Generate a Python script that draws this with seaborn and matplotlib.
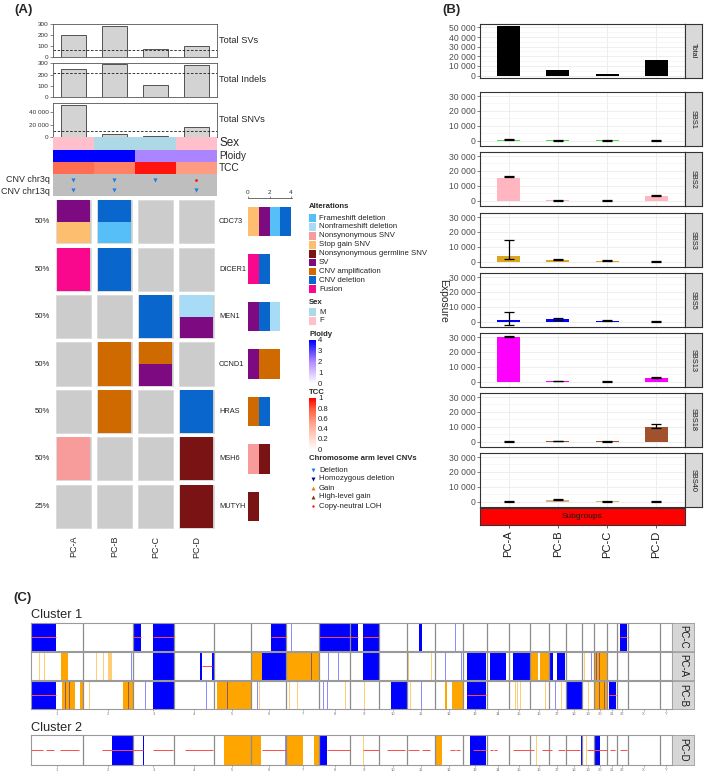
"""
Multi-panel summary: oncoprint (A), signature exposures (B), copy-number tracks (C).
"""
import numpy as np
import matplotlib
matplotlib.use('Agg')
import matplotlib.pyplot as plt
from matplotlib.colors import LinearSegmentedColormap, ListedColormap
from matplotlib.patches import Rectangle
from matplotlib.ticker import MultipleLocator
import seaborn as sns

sns.set_style('white')
plt.rcParams['font.family'] = ['Liberation Sans', 'DejaVu Sans']

W, H = 709, 781

# ---------------------------------------------------------------- data (A)
samples = ['PC-A', 'PC-B', 'PC-C', 'PC-D']
total_svs = [205, 285, 75, 105]
total_indels = [250, 295, 110, 285]
total_snvs = [51000, 5000, 1500, 16000]
median_svs, median_indels, median_snvs = 60, 215, 10000

sex = ['F', 'M', 'M', 'F']
ploidy = [4.0, 4.0, 2.1, 2.1]
tcc = [0.72, 0.65, 0.95, 0.55]
cnv_chr3q = ['Deletion', 'Deletion', 'Deletion', 'Copy-neutral LOH']
cnv_chr13q = ['Deletion', 'Deletion', None, 'Deletion']

genes = ['CDC73', 'DICER1', 'MEN1', 'CCND1', 'HRAS', 'MSH6', 'MUTYH']
# alterations per sample (top to bottom inside a cell)
cdc73 = [['SV', 'Stop gain SNV'], ['CNV deletion', 'Frameshift deletion'], [], []]
dicer1 = [['Fusion'], ['CNV deletion'], [], []]
men1 = [[], [], ['CNV deletion'], ['Nonframeshift deletion', 'SV']]
ccnd1 = [[], ['CNV amplification'], ['CNV amplification', 'SV'], []]
hras = [[], ['CNV amplification'], [], ['CNV deletion']]
msh6 = [['Nonsynonymous SNV'], [], [], ['Nonsynonymous germline SNV']]
mutyh = [[], [], [], ['Nonsynonymous germline SNV']]
onco_rows = [cdc73, dicer1, men1, ccnd1, hras, msh6, mutyh]

alt_types = ['Frameshift deletion', 'Nonframeshift deletion', 'Nonsynonymous SNV',
             'Stop gain SNV', 'Nonsynonymous germline SNV', 'SV',
             'CNV amplification', 'CNV deletion', 'Fusion']
alt_colors = ['#56BFF8', '#A8DBF6', '#F89B9B', '#FDBE6F', '#7A1414', '#7D0A80',
              '#CE6A00', '#0866CC', '#F9078C']
stack_order = ['Stop gain SNV', 'Fusion', 'Nonsynonymous SNV', 'SV', 'Frameshift deletion',
               'CNV amplification', 'CNV deletion', 'Nonframeshift deletion',
               'Nonsynonymous germline SNV']

# ---------------------------------------------------------------- data (B)
sig_names = ['Total', 'SBS1', 'SBS2', 'SBS3', 'SBS5', 'SBS13', 'SBS18', 'SBS40']
sig_colors = ['#000000', '#3EE83E', '#FFB6C1', '#DAA520', '#0000FF', '#FF00FF',
              '#A0522D', '#D2B48C']
total_exposure = [51000, 5500, 1500, 16000]
sbs1 = [600, 150, 150, 0]
sbs1_err = [(200, 1200), (0, 300), (0, 300), (-100, 200)]
sbs2 = [15500, 100, 0, 3200]
sbs2_err = [(15800, 16600), (0, 250), (0, 200), (3400, 3900)]
sbs3 = [4000, 1000, 500, 0]
sbs3_err = [(2000, 14500), (800, 1600), (200, 800), (-100, 200)]
sbs5 = [800, 1500, 700, 0]
sbs5_err = [(-2500, 6500), (1400, 2200), (500, 1000), (-100, 200)]
sbs13 = [30000, 300, 0, 2500]
sbs13_err = [(29700, 31000), (200, 500), (-100, 100), (2600, 3300)]
sbs18 = [0, 200, 100, 10000]
sbs18_err = [(-100, 100), (100, 400), (0, 200), (9500, 11800)]
sbs40 = [0, 1000, 300, 0]
sbs40_err = [(-100, 100), (800, 1600), (0, 700), (-100, 200)]

# ---------------------------------------------------------------- data (C)
chroms = [str(i) for i in range(1, 23)] + ['X', 'Y']
chrom_len = [249.25, 243.20, 198.02, 191.15, 180.92, 171.12, 159.14, 146.36, 141.21,
             135.53, 135.01, 133.85, 115.17, 107.35, 102.53, 90.35, 81.20, 78.08,
             59.13, 63.03, 48.13, 51.30, 155.27, 59.37]

# (chromosome, start Mb, end Mb, kind)
seg_pc_c = [
    ('1', 0, 121, 'del'), ('3', 0, 39, 'del'), ('3', 95, 198, 'del'), ('6', 95, 171, 'del'),
    ('8', 0, 146, 'del'), ('9', 0, 40, 'del'), ('9', 65, 141, 'del'), ('11', 57, 71, 'del'),
    ('22', 16, 47, 'del'),
    ('2', 24, 27, 'del_l'), ('7', 24, 27, 'del_l'), ('12', 99, 102, 'del_l'),
    ('11', 51, 54, 'gain'),
    ('1', 0, 121, 'loh'), ('3', 0, 39, 'loh'), ('3', 95, 198, 'loh'), ('6', 95, 171, 'loh'),
    ('8', 0, 146, 'loh'), ('9', 0, 40, 'loh'), ('9', 65, 141, 'loh'), ('22', 16, 47, 'loh'),
]
seg_pc_a = [
    ('1', 143, 177, 'gain'), ('6', 0, 55, 'gain'), ('7', 0, 159, 'gain'),
    ('16', 4, 38, 'gain'), ('16', 49, 90, 'gain'), ('20', 0, 63, 'gain'),
    ('1', 40, 43, 'gain_l'), ('1', 63, 66, 'gain_l'), ('2', 65, 68, 'gain_l'),
    ('2', 100, 103, 'gain_l'), ('2', 124, 140, 'gain_l'), ('5', 111, 114, 'gain_l'),
    ('9', 34, 37, 'gain_l'), ('10', 125, 128, 'gain_l'), ('11', 5, 8, 'gain_l'),
    ('11', 116, 119, 'gain_l'), ('18', 25, 28, 'gain_l'), ('19', 12, 15, 'gain_l'),
    ('3', 95, 198, 'del'), ('4', 125, 137, 'del'), ('4', 182, 191, 'del'),
    ('6', 55, 171, 'del'), ('9', 66, 141, 'del'), ('13', 19, 115, 'del'),
    ('14', 17, 94, 'del'), ('15', 19, 102, 'del'), ('17', 0, 22, 'del'), ('17', 39, 81, 'del'),
    ('2', 228, 231, 'del_l'), ('2', 236, 239, 'del_l'), ('7', 60, 63, 'del_l'),
    ('7', 118, 121, 'del_l'), ('8', 43, 46, 'del_l'), ('8', 91, 94, 'del_l'),
    ('11', 66, 69, 'del_l'), ('12', 48, 51, 'del_l'), ('12', 126, 129, 'del_l'),
    ('19', 46, 49, 'del_l'), ('20', 10, 13, 'del_l'), ('20', 24, 27, 'del_l'),
    ('4', 137, 182, 'loh'),
]
seg_pc_b = [
    ('1', 148, 212, 'gain'), ('1', 237, 249, 'gain'), ('2', 194, 243, 'gain'),
    ('5', 15, 180, 'gain'), ('12', 48, 60, 'gain'), ('12', 81, 134, 'gain'),
    ('20', 0, 63, 'gain'),
    ('1', 225, 228, 'gain_l'), ('2', 32, 35, 'gain_l'), ('3', 18, 21, 'gain_l'),
    ('6', 40, 43, 'gain_l'), ('7', 14, 17, 'gain_l'), ('7', 25, 28, 'gain_l'),
    ('7', 30, 33, 'gain_l'), ('7', 52, 55, 'gain_l'), ('7', 127, 130, 'gain_l'),
    ('8', 124, 127, 'gain_l'), ('9', 69, 72, 'gain_l'), ('10', 9, 12, 'gain_l'),
    ('11', 15, 18, 'gain_l'), ('15', 30, 33, 'gain_l'), ('15', 41, 44, 'gain_l'),
    ('15', 54, 57, 'gain_l'), ('15', 86, 89, 'gain_l'), ('16', 33, 36, 'gain_l'),
    ('16', 73, 76, 'gain_l'), ('17', 0, 3, 'gain_l'), ('17', 14, 17, 'gain_l'),
    ('17', 60, 63, 'gain_l'), ('19', 30, 33, 'gain_l'), ('22', 19, 22, 'gain_l'),
    ('1', 0, 121, 'del'), ('3', 95, 198, 'del'), ('10', 57, 135, 'del'),
    ('13', 19, 115, 'del'), ('18', 1, 78, 'del'), ('21', 12, 44, 'del'),
    ('1', 153, 156, 'del_l'), ('1', 164, 167, 'del_l'), ('1', 185, 188, 'del_l'),
    ('1', 192, 195, 'del_l'), ('2', 189, 192, 'del_l'), ('2', 220, 223, 'del_l'),
    ('2', 228, 231, 'del_l'), ('3', 58, 61, 'del_l'), ('4', 155, 158, 'del_l'),
    ('5', 66, 69, 'del_l'), ('6', 30, 33, 'del_l'), ('7', 98, 101, 'del_l'),
    ('8', 19, 22, 'del_l'), ('8', 38, 41, 'del_l'), ('9', 131, 134, 'del_l'),
    ('11', 68, 71, 'del_l'), ('11', 124, 127, 'del_l'), ('16', 57, 60, 'del_l'),
    ('17', 30, 33, 'del_l'), ('20', 25, 28, 'del_l'), ('20', 50, 53, 'del_l'),
    ('1', 0, 121, 'loh'), ('13', 19, 115, 'loh'), ('21', 12, 44, 'loh'),
]
seg_pc_d = [
    ('5', 50, 181, 'gain'), ('6', 0, 48, 'gain'), ('7', 1, 79, 'gain'),
    ('7', 134, 159, 'gain'), ('12', 0, 32, 'gain'),
    ('9', 66, 69, 'gain_l'), ('16', 29, 32, 'gain_l'), ('19', 22, 25, 'gain_l'),
    ('2', 141, 243, 'del'), ('3', 47, 55, 'del'), ('8', 0, 35, 'del'),
    ('13', 35, 115, 'del'), ('18', 76, 78, 'del'), ('20', 0, 27, 'del'),
    ('6', 166, 169, 'del_l'), ('11', 110, 113, 'del_l'), ('16', 52, 55, 'del_l'),
    ('1', 2, 60, 'loh'), ('1', 72, 112, 'loh'), ('1', 142, 231, 'loh'),
    ('2', 92, 243, 'loh'), ('3', 0, 50, 'loh'), ('3', 95, 195, 'loh'),
    ('4', 53, 190, 'loh'), ('6', 52, 171, 'loh'), ('8', 35, 146, 'loh'),
    ('9', 66, 141, 'loh'), ('10', 37, 126, 'loh'), ('11', 5, 60, 'loh'),
    ('11', 70, 111, 'loh'), ('12', 73, 95, 'loh'), ('12', 100, 121, 'loh'),
    ('13', 51, 115, 'loh'), ('14', 17, 30, 'loh'), ('14', 38, 49, 'loh'),
    ('15', 22, 102, 'loh'), ('16', 0, 17, 'loh'), ('16', 57, 90, 'loh'),
    ('17', 0, 14, 'loh'), ('17', 47, 81, 'loh'), ('18', 0, 70, 'loh'),
    ('19', 25, 59, 'loh'), ('20', 0, 63, 'loh'), ('21', 15, 40, 'loh'),
    ('22', 16, 47, 'loh'),
]

# ---------------------------------------------------------------- helpers
fig = plt.figure(figsize=(W / 100, H / 100), dpi=100)


def px_axes(left, top, width, height):
    return fig.add_axes([left / W, 1 - (top + height) / H, width / W, height / H])


def fig_text(x, y, s, **kw):
    fig.text(x / W, 1 - y / H, s, **kw)


def thousands(v):
    return f'{int(v):,}'.replace(',', ' ')


fig_text(14, 10, '(A)', fontsize=9.5, fontweight='bold', va='center')
fig_text(442, 10, '(B)', fontsize=9.5, fontweight='bold', va='center')
fig_text(13, 598, '(C)', fontsize=9.5, fontweight='bold', va='center')

# ---------------------------------------------------------------- (A) count bars
def count_panel(top, height, values, median, ytop, ticks, label):
    ax = px_axes(53, top, 164, height)
    sns.barplot(x=samples, y=values, color='#D3D3D3', edgecolor='#3a3a3a',
                linewidth=0.6, width=0.62, saturation=1, ax=ax)
    ax.axhline(median, ls=(0, (3, 2)), color='#1a1a1a', lw=0.6)
    ax.set(xlim=(-0.5, 3.5), ylim=(0, ytop), xlabel='', ylabel='', xticks=[])
    ax.set_yticks(ticks)
    ax.set_yticklabels([thousands(t) for t in ticks])
    ax.tick_params(axis='y', labelsize=4.6, length=2, width=0.4, pad=1,
                   colors='#333333', left=True)
    for s in ax.spines.values():
        s.set_color('#555555')
        s.set_linewidth(0.6)
    fig_text(219, top + height / 2, label, fontsize=6.7, va='center')


count_panel(24, 33, total_svs, median_svs, 303, [0, 100, 200, 300], 'Total SVs')
count_panel(63, 34, total_indels, median_indels, 303, [0, 100, 200, 300], 'Total Indels')
count_panel(103, 34, total_snvs, median_snvs, 54800, [0, 20000, 40000], 'Total SNVs')

# annotation strips
sex_cmap = ListedColormap(['#FFC0CB', '#ADD8E6'])
ploidy_cmap = LinearSegmentedColormap.from_list('ploidy', ['#FFFFFF', '#B48CFF', '#0000FF'])
tcc_cmap = LinearSegmentedColormap.from_list(
    'tcc', [(0, '#FFFFFF'), (0.5, '#FFA890'), (0.8, '#FF5A3C'), (1, '#FF0000')])

strips = [(137, 13, [[0 if s == 'F' else 1 for s in sex]], sex_cmap, 0, 1, 'Sex', 8.4),
          (150, 12, [ploidy], ploidy_cmap, 0, 4, 'Ploidy', 7.1),
          (162, 12, [tcc], tcc_cmap, 0, 1, 'TCC', 7.3)]
for top, h, vals, cmap, vmin, vmax, name, fs in strips:
    ax = px_axes(53, top, 164, h)
    sns.heatmap(np.array(vals, dtype=float), cmap=cmap, vmin=vmin, vmax=vmax, cbar=False,
                xticklabels=False, yticklabels=False, ax=ax)
    fig_text(219, top + h / 2, name, fontsize=fs, va='center')

# chromosome arm CNV strip
ax = px_axes(53, 174, 164, 22)
ax.set_facecolor('#BEBEBE')
marker_style = {'Deletion': ('v', '#1C7FE0', 9), 'Copy-neutral LOH': ('o', '#FF1010', 4)}
for row, calls in enumerate([cnv_chr3q, cnv_chr13q]):
    for j, c in enumerate(calls):
        if c is None:
            continue
        m, col, s = marker_style[c]
        ax.scatter(j, row, marker=m, color=col, s=s, lw=0)
ax.set(xlim=(-0.5, 3.5), ylim=(1.55, -0.55), xticks=[], yticks=[])
for s in ax.spines.values():
    s.set_visible(False)
fig_text(50, 180, 'CNV chr3q', fontsize=6.4, va='center', ha='right')
fig_text(50, 191, 'CNV chr13q', fontsize=6.4, va='center', ha='right')

# oncoprint
color_of = dict(zip(alt_types, alt_colors))
ax = px_axes(53, 198, 164, 332)
cell_h = 0.91
for i, row in enumerate(onco_rows):
    for j, alts in enumerate(row):
        ax.bar(j, cell_h, bottom=i - cell_h / 2, width=0.85, color='#CCCCCC',
               edgecolor='#DADADA', linewidth=0.6)
        for k, a in enumerate(alts):
            h = cell_h / len(alts)
            ax.bar(j, h, bottom=i - cell_h / 2 + k * h, width=0.8, color=color_of[a], lw=0)
    pct = sum(1 for alts in row if alts) / len(samples)
    ax.text(-0.58, i, f'{pct:.0%}', ha='right', va='center', fontsize=5.6, color='#222')
    ax.text(3.55, i, genes[i], ha='left', va='center', fontsize=5.3, color='#222')
for j, s in enumerate(samples):
    ax.text(j, 6.62, s, rotation=90, ha='center', va='top', fontsize=6.5)
ax.set(xlim=(-0.5, 3.5), ylim=(6.5, -0.5))
ax.axis('off')

# per-gene alteration counts
ax = px_axes(248, 198, 44, 332)
for i, row in enumerate(onco_rows):
    found = [a for alts in row for a in alts]
    left = 0
    for a in stack_order:
        n = found.count(a)
        if n:
            ax.barh(i, n, left=left, height=0.62, color=color_of[a], lw=0)
            left += n
ax.set(xlim=(0, 4.09), ylim=(6.5, -0.5), yticks=[])
ax.xaxis.tick_top()
ax.set_xticks([0, 2, 4])
ax.tick_params(axis='x', labelsize=4.6, length=1.5, width=0.4, pad=1, colors='#333', top=True)
for side in ['bottom', 'left', 'right']:
    ax.spines[side].set_visible(False)
ax.spines['top'].set_linewidth(0.5)
ax.spines['top'].set_color('#333')

# legend
leg = px_axes(300, 200, 130, 320)
lx, tx = 309, 319
title_fs, item_fs = 5.6, 5.6
leg.text(lx, 207, 'Alterations', fontsize=title_fs, fontweight='bold', va='center')
for k, (a, c) in enumerate(zip(alt_types, alt_colors)):
    y = 218 + 8.9 * k
    leg.add_patch(Rectangle((lx, y - 3.9), 7, 7.8, color=c, lw=0))
    leg.text(tx, y, a, fontsize=item_fs, va='center', color='#222')
leg.text(lx, 303, 'Sex', fontsize=title_fs, fontweight='bold', va='center')
for k, (lab, c) in enumerate([('M', '#ADD8E6'), ('F', '#FFC0CB')]):
    y = 312 + 9 * k
    leg.add_patch(Rectangle((lx, y - 3.9), 7, 7.8, color=c, lw=0))
    leg.text(tx, y, lab, fontsize=item_fs, va='center', color='#222')

grad = np.linspace(0, 1, 100).reshape(-1, 1)
leg.text(lx, 334, 'Ploidy', fontsize=title_fs, fontweight='bold', va='center')
leg.imshow(grad, cmap=ploidy_cmap, extent=[lx, lx + 7, 384, 340], origin='lower', aspect='auto')
for k, v in enumerate([4, 3, 2, 1, 0]):
    leg.text(tx - 1, 341 + k * 10.75, str(v), fontsize=item_fs, va='center', color='#222')
leg.text(lx, 393, 'TCC', fontsize=title_fs, fontweight='bold', va='center')
leg.imshow(grad, cmap=tcc_cmap, extent=[lx, lx + 7, 450, 398], origin='lower', aspect='auto')
for k, v in enumerate(['1', '0.8', '0.6', '0.4', '0.2', '0']):
    leg.text(tx - 1, 399 + k * 10.2, v, fontsize=item_fs, va='center', color='#222')
leg.text(lx, 459, 'Chromosome arm level CNVs', fontsize=title_fs, fontweight='bold', va='center')
arm_items = [('Deletion', 'v', '#1C7FE0', 8), ('Homozygous deletion', 'v', '#00008B', 8),
             ('Gain', '^', '#F07810', 8), ('High-level gain', '^', '#7A3410', 8),
             ('Copy-neutral LOH', 'o', '#FF1010', 3)]
for k, (lab, m, c, s) in enumerate(arm_items):
    y = 470 + 9 * k
    leg.scatter(lx + 3.5, y, marker=m, color=c, s=s, lw=0)
    leg.text(tx, y, lab, fontsize=item_fs, va='center', color='#222')
leg.set_xlim(300, 430)
leg.set_ylim(520, 200)
leg.axis('off')

# ---------------------------------------------------------------- (B) exposures
sig_values = [total_exposure, sbs1, sbs2, sbs3, sbs5, sbs13, sbs18, sbs40]
sig_errors = [None, sbs1_err, sbs2_err, sbs3_err, sbs5_err, sbs13_err, sbs18_err, sbs40_err]
facet_tops = [24, 92, 152, 213, 273, 333, 393, 453]
for name, col, vals, errs, top in zip(sig_names, sig_colors, sig_values, sig_errors, facet_tops):
    ax = px_axes(480, top, 205, 54)
    ax.set_axisbelow(True)
    sns.barplot(x=samples, y=vals, color=col, width=0.47, saturation=1, ax=ax, lw=0)
    if errs is not None:
        lo = np.array([e[0] for e in errs])
        hi = np.array([e[1] for e in errs])
        ax.errorbar(np.arange(4), (lo + hi) / 2, yerr=(hi - lo) / 2, fmt='none',
                    ecolor='black', elinewidth=0.9, capsize=3.8, capthick=0.9)
        ax.set_ylim(-3600, 32700)
        ticks = [0, 10000, 20000, 30000]
    else:
        ax.set_ylim(-2550, 53550)
        ticks = [0, 10000, 20000, 30000, 40000, 50000]
    ax.set_yticks(ticks)
    ax.set_yticklabels([thousands(t) for t in ticks])
    ax.yaxis.set_minor_locator(MultipleLocator(5000))
    ax.grid(True, which='major', color='#EBEBEB', lw=0.6)
    ax.grid(True, which='minor', axis='y', color='#F2F2F2', lw=0.4)
    ax.set(xlim=(-0.58, 3.58), xlabel='', ylabel='')
    ax.set_xticklabels([])
    ax.tick_params(axis='y', labelsize=6.2, length=2, width=0.5, pad=1, colors='#4D4D4D', left=True)
    ax.tick_params(axis='x', length=0)
    for s in ax.spines.values():
        s.set_color('#333333')
        s.set_linewidth(0.8)
    st = px_axes(685, top, 17, 54)
    st.set_facecolor('#D9D9D9')
    st.set(xticks=[], yticks=[])
    for s in st.spines.values():
        s.set_color('#333333')
        s.set_linewidth(0.8)
    st.text(0.5, 0.5, name, rotation=-90, ha='center', va='center', fontsize=5.3,
            color='#1a1a1a', transform=st.transAxes)

ax = px_axes(480, 508, 205, 17)
ax.set_facecolor('#FF0000')
ax.text(0.5, 0.5, 'Subgroups', ha='center', va='center', fontsize=6, color='#1a1a1a',
        transform=ax.transAxes)
ax.set(xlim=(-0.58, 3.58), yticks=[])
ax.set_xticks(range(len(samples)))
ax.set_xticklabels(samples, rotation=90, fontsize=8, color='#1a1a1a')
ax.tick_params(axis='x', length=2, width=0.5, pad=2, bottom=True)
for s in ax.spines.values():
    s.set_color('#333333')
    s.set_linewidth(0.8)
fig_text(443, 301, 'Exposure', rotation=-90, fontsize=7.5, ha='center', va='center')

# ---------------------------------------------------------------- (C) copy number
offsets = np.concatenate([[0], np.cumsum(chrom_len)])
start_of = dict(zip(chroms, offsets[:-1]))
centers = offsets[:-1] + np.array(chrom_len) / 2
seg_style = {'gain_l': ('#FFA500', 0.55, 1.0), 'gain': ('#FFA500', 1.0, 1.1),
             'del': ('#0000FF', 1.0, 1.2), 'del_l': ('#0000FF', 0.45, 1.3)}


def cnv_track(top, height, segments, name, show_labels):
    ax = px_axes(31, top, 641, height)
    for c, s, e, kind in segments:
        x0, x1 = start_of[c] + s, start_of[c] + e
        if kind == 'loh':
            ax.hlines(0.5, x0, x1, color='#FF4A4A', lw=0.7, zorder=3)
        else:
            col, a, z = seg_style[kind]
            ax.axvspan(x0, x1, color=col, alpha=a, lw=0, zorder=z)
    ax.vlines(offsets[1:-1], 0, 1, color='#8C8C8C', lw=0.9, zorder=2)
    ax.set(xlim=(0, offsets[-1]), ylim=(0, 1), yticks=[])
    if show_labels:
        ax.set_xticks(centers)
        ax.set_xticklabels(chroms, fontsize=3, color='#555555')
        ax.tick_params(axis='x', length=1.5, width=0.4, pad=1, colors='#777777', bottom=True)
    else:
        ax.set_xticks([])
    for s in ax.spines.values():
        s.set_color('#9A9A9A')
        s.set_linewidth(0.8)
    st = px_axes(672, top, 22, height)
    st.set_facecolor('#D6D6D6')
    st.set(xticks=[], yticks=[])
    for s in st.spines.values():
        s.set_color('#9A9A9A')
        s.set_linewidth(0.6)
    st.text(0.5, 0.5, name, rotation=-90, ha='center', va='center', fontsize=6.9,
            color='#1a1a1a', transform=st.transAxes)


fig_text(31, 615, 'Cluster 1', fontsize=9.2, va='center')
cnv_track(623, 28, seg_pc_c, 'PC-C', False)
cnv_track(652, 28, seg_pc_a, 'PC-A', False)
cnv_track(681, 28, seg_pc_b, 'PC-B', True)
fig_text(31, 728, 'Cluster 2', fontsize=9.2, va='center')
cnv_track(735, 30, seg_pc_d, 'PC-D', True)

fig.savefig('out.png', dpi=100)
